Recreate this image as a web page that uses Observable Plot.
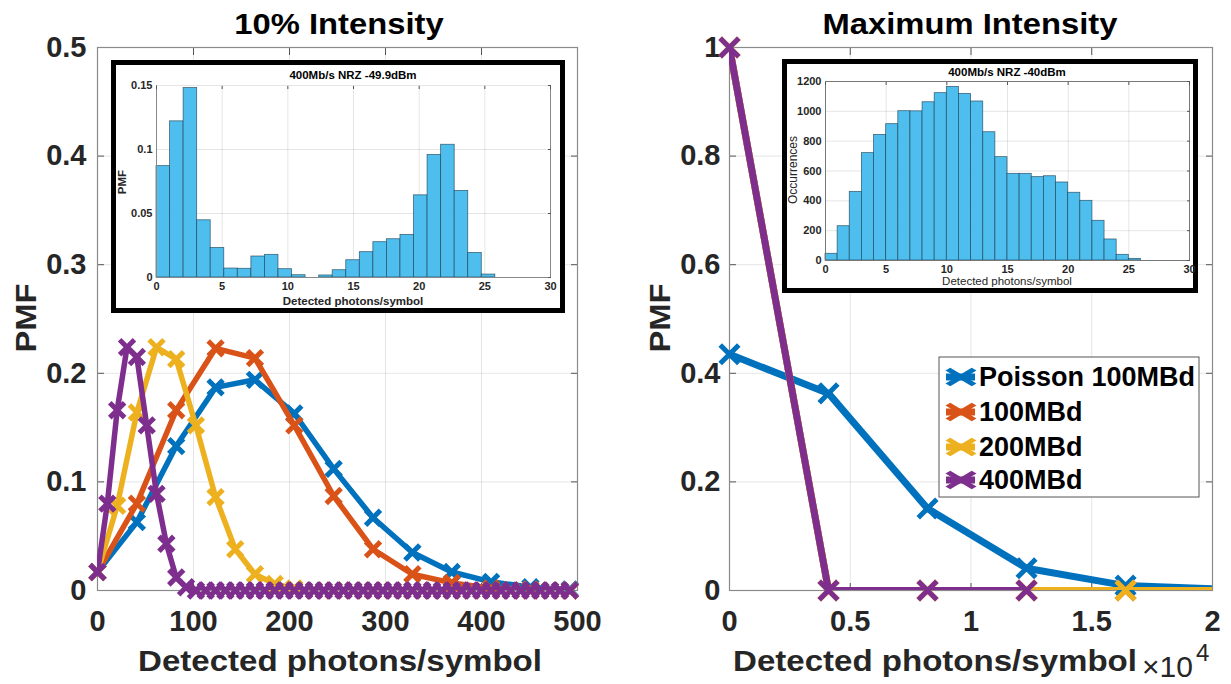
<!DOCTYPE html>
<html><head><meta charset="utf-8">
<script src="https://cdn.jsdelivr.net/npm/d3@7"></script>
<script src="https://cdn.jsdelivr.net/npm/@observablehq/plot@0.6"></script>
<style>
body{margin:0;background:#fff;}
#page{position:relative;width:1231px;height:684px;overflow:hidden;font-family:"Liberation Sans",Arial,sans-serif;}
.inset{position:absolute;box-sizing:border-box;border:5px solid #000;background:#fff;}
svg{overflow:visible;}
</style></head><body><div id="page"></div>
<script>
// ---------- data: main left (10% intensity) ----------
const leftX41 = [0,41,82,123,164,205,246,287,328,369,410,451,492];
const leftPoisson = [0.017,0.063,0.133,0.187,0.194,0.163,0.112,0.067,0.035,0.017,0.008,0.003,0.001];
const left100 = [0.017,0.080,0.166,0.223,0.214,0.152,0.087,0.038,0.015,0.007,0.002,0.001,0.000];
const leftX20 = [0,20.5,41,61.5,82,102.5,123,143.5,164,184.5,205,225.5,246,266.5,287,307.5,328,348.5,369,389.5,410,430.5,451,471.5,492];
const left200 = [0.017,0.078,0.164,0.224,0.213,0.152,0.086,0.038,0.015,0.006,0.002,0,0,0,0,0,0,0,0,0,0,0,0,0,0];
const leftX10 = [0,10.25,20.5,30.75,41,51.25,61.5,71.75,82,92.25,102.5,112.75,123,133.25,143.5,153.75,164,174.25,184.5,194.75,205,215.25,225.5,235.75,246,256.25,266.5,276.75,287,297.25,307.5,317.75,328,338.25,348.5,358.75,369,379.25,389.5,399.75,410,420.25,430.5,440.75,451,461.25,471.5,481.75,492];
const left400 = [0.017,0.080,0.166,0.224,0.215,0.152,0.089,0.043,0.012,0.003,0,0,0,0,0,0,0,0,0,0,0,0,0,0,0,0,0,0,0,0,0,0,0,0,0,0,0,0,0,0,0,0,0,0,0,0,0,0,0];
const leftXTicks = [0,100,200,300,400,500];
const leftYTicks = [0,0.1,0.2,0.3,0.4,0.5];

// ---------- data: main right (maximum intensity), x in units of 1e4 ----------
const rightX = [0,0.41,0.82,1.23,1.64,2.05];
const rightPoisson = [0.435,0.363,0.151,0.041,0.009,0.0025];
const right100 = [1,0,0,0,0,0];
const right200 = [1,0,0,0,0,0];
const rightX400 = [0,0.41,0.82,1.23];
const right400 = [1,0,0,0];
const rightXTicks = [0,0.5,1,1.5,2];
const rightYTicks = [0,0.2,0.4,0.6,0.8,1];

// ---------- data: insets ----------
const insetLeftEdges = [0,1.032,2.064,3.096,4.128,5.16,6.192,7.224,8.256,9.288,10.32,11.352,12.384,13.416,14.448,15.48,16.512,17.544,18.576,19.608,20.64,21.672,22.704,23.736,24.768,25.8];
const insetLeftPMF = [0.087,0.122,0.148,0.0447,0.0231,0.0070,0.0068,0.0164,0.0177,0.0065,0.0018,0,0.0016,0.0057,0.0135,0.0198,0.0276,0.0299,0.0333,0.0642,0.0957,0.1037,0.0676,0.0192,0.0023];
const insetRightEdges = [0,1,2,3,4,5,6,7,8,9,10,11,12,13,14,15,16,17,18,19,20,21,22,23,24,25,26];
const insetRightCounts = [45,230,460,720,842,914,1001,1000,1061,1122,1164,1117,1066,860,693,581,581,559,565,523,454,400,266,141,38,11];
const insetXTicks = [0,5,10,15,20,25,30];
const insetLeftYTicks = [0,0.05,0.1,0.15];
const insetRightYTicks = [0,200,400,600,800,1000,1200];

const seriesNames = ["Poisson 100MBd","100MBd","200MBd","400MBd"];
const colors = {"Poisson 100MBd":"#0072BD","100MBd":"#D95319","200MBd":"#EDB120","400MBd":"#7E2F8E"};

// ---------- helpers ----------
const FONT = "Liberation Sans, Arial, sans-serif";
const rows = (xs, ys) => xs.map((x, i) => ({x, y: ys[i]}));
const fmt = d => String(+(+d).toFixed(3));

function seriesMarks(series, lw, r, sw, xmax) {
  return series.flatMap(s => [
    Plot.line(s.data, {x: "x", y: "y", stroke: colors[s.name], strokeWidth: lw, strokeLinejoin: "round", clip: true}),
    Plot.dot(s.data.filter(d => d.x <= xmax), {x: "x", y: "y", symbol: "times", r, stroke: colors[s.name], strokeWidth: sw})
  ]);
}

function axesMarks(xt, yt, xPad, yPad, size, tick, gridX, gridY) {
  const tf = {fontSize: size, fontWeight: "bold", fontFamily: FONT, color: "#262626", label: null, tickFormat: fmt};
  return [
    Plot.gridX({ticks: gridX, stroke: "#000", strokeOpacity: 0.1}),
    Plot.gridY({ticks: gridY, stroke: "#000", strokeOpacity: 0.1}),
    Plot.axisX({ticks: xt, anchor: "bottom", tickSize: 0, tickPadding: xPad, ...tf}),
    Plot.axisY({ticks: yt, anchor: "left", tickSize: 0, tickPadding: yPad, ...tf}),
    Plot.axisX({ticks: xt, anchor: "bottom", tickSize: -tick, text: null, label: null, stroke: "#555"}),
    Plot.axisX({ticks: xt, anchor: "top", tickSize: -tick, text: null, label: null, stroke: "#555"}),
    Plot.axisY({ticks: yt, anchor: "left", tickSize: -tick, text: null, label: null, stroke: "#555"}),
    Plot.axisY({ticks: yt, anchor: "right", tickSize: -tick, text: null, label: null, stroke: "#555"})
  ];
}

const page = document.getElementById("page");
function place(el, left, top) {
  el.style.position = "absolute"; el.style.left = left + "px"; el.style.top = top + "px";
  page.appendChild(el); return el;
}

// ---------- left main ----------
const leftSeries = [
  {name: "Poisson 100MBd", data: rows(leftX41, leftPoisson)},
  {name: "100MBd", data: rows(leftX41, left100)},
  {name: "200MBd", data: rows(leftX20, left200)},
  {name: "400MBd", data: rows(leftX10, left400)}
];
const leftPlot = Plot.plot({
  width: 620, height: 684, marginLeft: 97, marginRight: 43, marginTop: 47, marginBottom: 94,
  x: {domain: [0, 500]}, y: {domain: [0, 0.5]},
  style: {background: "transparent", overflow: "visible"},
  marks: [
    ...axesMarks(leftXTicks, leftYTicks, 20, 11, 29, 7, [100,200,300,400], [0.1,0.2,0.3,0.4]),
    Plot.frame({stroke: "#8a8a8a", strokeWidth: 1.2}),
    ...seriesMarks(leftSeries, 5.5, 6.8, 5, 500)
  ]
});
place(leftPlot, 0, 0);

// ---------- right main ----------
const rightSeries = [
  {name: "Poisson 100MBd", data: rows(rightX, rightPoisson)},
  {name: "100MBd", data: rows(rightX, right100)},
  {name: "200MBd", data: rows(rightX, right200)},
  {name: "400MBd", data: rows(rightX400, right400)}
];
const rightPlot = Plot.plot({
  width: 611, height: 684, marginLeft: 109, marginRight: 19, marginTop: 47, marginBottom: 94,
  x: {domain: [0, 2]}, y: {domain: [0, 1]},
  style: {background: "transparent", overflow: "visible"},
  marks: [
    ...axesMarks(rightXTicks, rightYTicks, 20, 9, 29, 7, [0.5,1,1.5], [0.2,0.4,0.6,0.8]),
    Plot.frame({stroke: "#8a8a8a", strokeWidth: 1.2}),
    ...seriesMarks(rightSeries, 7, 8.5, 5, 2)
  ]
});
place(rightPlot, 620, 0);

// ---------- insets ----------
function insetPlot(edges, vals, yTicks, yDomain, w, h, m, frameMode) {
  const bars = vals.map((v, i) => ({x1: edges[i], x2: edges[i + 1], y: v}));
  const tf = {fontSize: 11, fontWeight: "bold", fontFamily: FONT, color: "#262626", label: null, tickFormat: fmt};
  const frameMarks = frameMode === "full"
    ? [Plot.frame({stroke: "#777"})]
    : [Plot.ruleY([yDomain[0]], {stroke: "#888"}), Plot.ruleX([30], {stroke: "#888"}), Plot.ruleX([0], {stroke: "#888"})];
  return Plot.plot({
    width: w, height: h, marginLeft: m[0], marginRight: m[1], marginTop: m[2], marginBottom: m[3],
    x: {domain: [0, 30]}, y: {domain: yDomain},
    style: {background: "white", overflow: "visible"},
    marks: [
      Plot.gridX({ticks: [5,10,15,20,25], stroke: "#000", strokeOpacity: 0.1}),
      Plot.gridY({ticks: yTicks.slice(1), stroke: "#000", strokeOpacity: 0.1}),
      Plot.rectY(bars, {x1: "x1", x2: "x2", y: "y", fill: "#4DBEEE", stroke: "#1c3f52", strokeWidth: 0.8, strokeOpacity: 0.75, inset: 0}),
      ...frameMarks,
      Plot.axisX({ticks: insetXTicks, anchor: "bottom", tickSize: 0, tickPadding: 5, ...tf}),
      Plot.axisY({ticks: yTicks, anchor: "left", tickSize: 0, tickPadding: 4, ...tf}),
      Plot.axisY({ticks: yTicks, anchor: "right", tickSize: -3, text: null, label: null, stroke: "#555"}),
      Plot.axisX({ticks: insetXTicks, anchor: "top", tickSize: -3, text: null, label: null, stroke: "#555"})
    ]
  });
}
function insetBox(left, top, w, h, plot) {
  const d = document.createElement("div");
  d.className = "inset";
  d.style.left = left + "px"; d.style.top = top + "px";
  d.style.width = w + "px"; d.style.height = h + "px";
  d.appendChild(plot); page.appendChild(d);
}
insetBox(111, 60, 454, 253, insetPlot(insetLeftEdges, insetLeftPMF, insetLeftYTicks, [0, 0.15], 444, 243, [40, 10, 20, 31], "open"));
insetBox(782, 59, 416, 234, insetPlot(insetRightEdges, insetRightCounts, insetRightYTicks, [0, 1200], 406, 224, [38, 4, 17, 28], "full"));

// ---------- overlay text: titles, labels, legend ----------
const ov = d3.select(page).append("svg")
  .attr("width", 1231).attr("height", 684)
  .style("position", "absolute").style("left", "0px").style("top", "0px")
  .style("pointer-events", "none").style("font-family", FONT);
function txt(str, x, y, {size = 29, weight = "bold", anchor = "middle", sx = 1, rotate = 0, fill = "#000"} = {}) {
  return ov.append("text")
    .attr("transform", `translate(${x},${y}) rotate(${rotate}) scale(${sx},1)`)
    .attr("text-anchor", anchor).attr("font-size", size).attr("font-weight", weight)
    .attr("fill", fill).text(str);
}
const titles = ["10% Intensity", "Maximum Intensity"];
const xLabel = "Detected photons/symbol";
const yLabel = "PMF";
txt(titles[0], 339, 34, {sx: 1.13});
txt(titles[1], 970, 34, {sx: 1.13});
txt(xLabel, 340, 671, {sx: 1.14, fill: "#262626"});
txt(xLabel, 935, 671, {sx: 1.14, fill: "#262626"});
txt(yLabel, 36, 318, {rotate: -90, sx: 1.13, fill: "#262626"});
txt(yLabel, 670, 318, {rotate: -90, sx: 1.13, fill: "#262626"});
txt("×10", 1142, 677, {size: 30, weight: "normal", anchor: "start", fill: "#262626"});
txt("4", 1196, 661, {size: 24, weight: "normal", anchor: "start", fill: "#262626"});

// inset texts
const insetTitles = ["400Mb/s NRZ -49.9dBm", "400Mb/s NRZ -40dBm"];
txt(insetTitles[0], 353, 79, {size: 11.5});
txt(xLabel, 353, 305, {size: 11.5, fill: "#262626"});
txt("PMF", 126, 182, {size: 11.5, rotate: -90, fill: "#262626"});
txt(insetTitles[1], 1007, 76, {size: 11.5});
txt(xLabel, 1007, 285, {size: 11.5, weight: "normal", fill: "#262626"});
txt("Occurrences", 797, 170, {size: 12, weight: "normal", rotate: -90, fill: "#262626"});

// legend
ov.append("rect").attr("x", 939).attr("y", 357).attr("width", 260).attr("height", 140)
  .attr("fill", "#fff").attr("stroke", "#555").attr("stroke-width", 1);
const legendY = [377, 412, 447, 480];
const times = d3.symbol(d3.symbolTimes, Math.PI * 8 * 8)();
seriesNames.forEach((name, i) => {
  const y = legendY[i];
  ov.append("line").attr("x1", 946).attr("x2", 975).attr("y1", y).attr("y2", y)
    .attr("stroke", colors[name]).attr("stroke-width", 7);
  ov.append("path").attr("d", times).attr("transform", `translate(961,${y}) scale(1.5,0.9)`)
    .attr("stroke", colors[name]).attr("stroke-width", 4.5).attr("fill", "none");
  txt(name, 979, y + 9, {size: 27, anchor: "start"});
});
</script>
</body></html>
